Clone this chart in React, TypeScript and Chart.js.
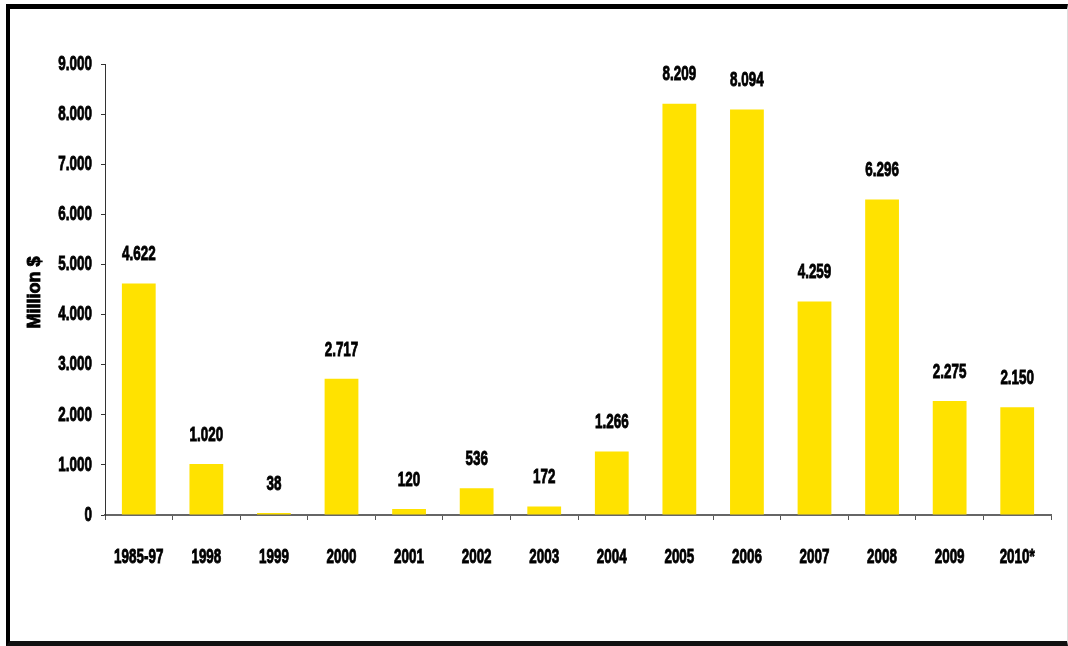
import React, { useEffect, useRef } from "react";
import { Chart, registerables } from "chart.js";

Chart.register(...registerables);

const categories = ["1985-97", "1998", "1999", "2000", "2001", "2002", "2003", "2004", "2005", "2006", "2007", "2008", "2009", "2010*"];
const values = [4622, 1020, 38, 2717, 120, 536, 172, 1266, 8209, 8094, 4259, 6296, 2275, 2150];
const yTitle = "Million $";
const yMax = 9000;
const yStep = 1000;

const FONT_FAMILY = "'Liberation Sans', Arial, sans-serif";
const TEXT_SIZE = 21;
const TEXT_SX = 0.64;

const fmt = (v: number) => {
  const s = Math.round(v).toString();
  return s.replace(/\B(?=(\d{3})+(?!\d))/g, ".");
};

function drawText(
  ctx: CanvasRenderingContext2D,
  text: string,
  x: number,
  y: number,
  size: number,
  sx: number,
  align: CanvasTextAlign,
  rotate = 0
) {
  ctx.save();
  ctx.translate(x, y);
  if (rotate) ctx.rotate(rotate);
  ctx.scale(sx, 1);
  ctx.font = `bold ${size}px ${FONT_FAMILY}`;
  ctx.fillStyle = "#000";
  ctx.strokeStyle = "#000";
  ctx.lineWidth = 0.9;
  ctx.textAlign = align;
  ctx.textBaseline = "middle";
  ctx.fillText(text, 0, 0);
  ctx.strokeText(text, 0, 0);
  ctx.restore();
}

const textPlugin = {
  id: "condensedText",
  afterDraw(chart: any) {
    const ctx = chart.ctx as CanvasRenderingContext2D;
    const xs = chart.scales.x;
    const ys = chart.scales.y;
    ys.ticks.forEach((t: any, i: number) => {
      const y = ys.getPixelForTick(i);
      drawText(ctx, fmt(t.value), chart.chartArea.left - 13, y, TEXT_SIZE, TEXT_SX, "right");
    });
    categories.forEach((c, i) => {
      const x = xs.getPixelForTick(i);
      drawText(ctx, c, x, xs.top + 42, TEXT_SIZE, TEXT_SX, "center");
    });
    const meta = chart.getDatasetMeta(0);
    meta.data.forEach((bar: any, i: number) => {
      drawText(ctx, fmt(values[i]), bar.x, bar.y - 29, TEXT_SIZE, TEXT_SX, "center");
    });
    const midY = (chart.chartArea.top + chart.chartArea.bottom) / 2;
    drawText(ctx, yTitle, 35, midY + 3, 18, 1.0, "center", -Math.PI / 2);
  },
};

export default function App() {
  const ref = useRef<HTMLCanvasElement | null>(null);
  useEffect(() => {
    if (!ref.current) return;
    const chart = new Chart(ref.current, {
      type: "bar",
      data: {
        labels: categories,
        datasets: [
          {
            data: values,
            backgroundColor: "#FFE200",
            borderWidth: 0,
            categoryPercentage: 1,
            barPercentage: 0.5,
          },
        ],
      },
      options: {
        animation: false,
        responsive: false,
        maintainAspectRatio: false,
        layout: { padding: { left: 20, right: 17, top: 64, bottom: 0 } },
        plugins: {
          legend: { display: false },
          tooltip: { enabled: false },
        },
        scales: {
          x: {
            grid: {
              display: true,
              drawOnChartArea: false,
              drawTicks: true,
              tickLength: 5,
              color: "#555",
              offset: true,
            },
            border: { display: true, color: "#666", width: 2 },
            ticks: {
              color: "rgba(0,0,0,0)",
              font: { size: 12 },
              maxRotation: 0,
              autoSkip: false,
            },
            afterFit: (s: any) => {
              s.height = 131;
            },
          },
          y: {
            min: 0,
            max: yMax,
            grid: {
              display: true,
              drawOnChartArea: false,
              drawTicks: true,
              tickLength: 4,
              color: "#333",
            },
            border: { display: true, color: "#333", width: 1 },
            ticks: {
              stepSize: yStep,
              color: "rgba(0,0,0,0)",
              font: { size: 12 },
            },
            afterFit: (s: any) => {
              s.width = 85;
            },
          },
        },
      },
      plugins: [textPlugin],
    });
    return () => chart.destroy();
  }, []);

  return (
    <div style={{ position: "fixed", left: 0, top: 0, width: 1068, height: 646, background: "#fff" }}>
      <canvas ref={ref} width={1068} height={646} style={{ position: "absolute", left: 0, top: 0, width: 1068, height: 646 }} />
      <div
        style={{
          position: "absolute",
          left: 6,
          top: 4,
          width: 1062,
          height: 642,
          boxSizing: "border-box",
          borderTop: "5px solid #000",
          borderLeft: "4px solid #000",
          borderBottom: "5px solid #111",
          borderRight: "1px solid #ddd",
          pointerEvents: "none",
        }}
      />
    </div>
  );
}
